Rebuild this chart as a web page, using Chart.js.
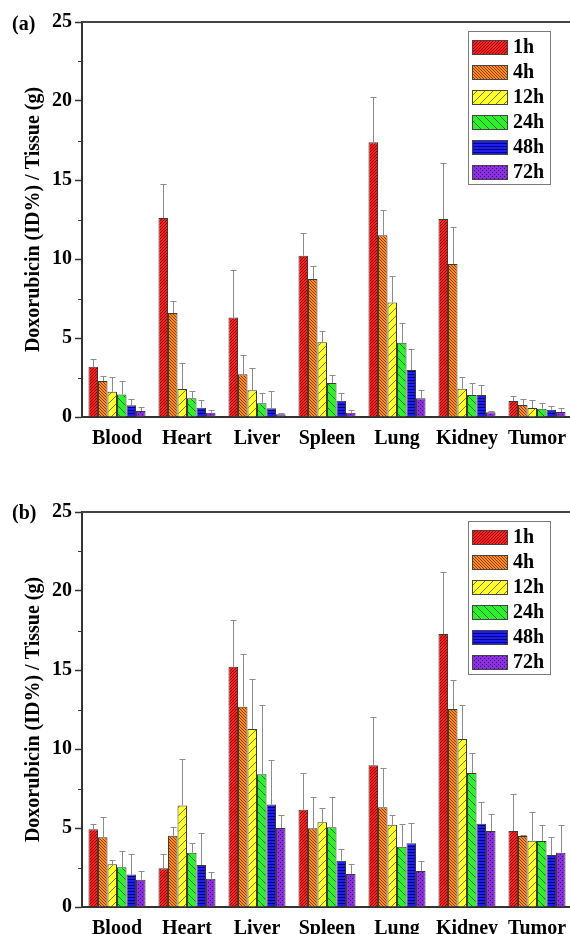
<!DOCTYPE html>
<html>
<head>
<meta charset="utf-8">
<script src="https://cdn.jsdelivr.net/npm/chart.js@4.4.1/dist/chart.umd.min.js"></script>
<style>
  html, body { margin: 0; padding: 0; background: #fff; width: 570px; height: 934px; overflow: hidden; position: relative; }
  .panel { position: absolute; left: 0; }
  .tag { position: absolute; left: 12px; font: bold 20px "Liberation Serif", "Times New Roman", serif; color: #000; }
</style>
</head>
<body>
<div class="panel" style="top:0"><canvas id="chartA" width="580" height="460"></canvas></div>
<div class="panel" style="top:490px"><canvas id="chartB" width="580" height="460"></canvas></div>
<div class="tag" style="top:12px">(a)</div>
<div class="tag" style="top:501px">(b)</div>
<script>
// categories and series
const organs = ['Blood', 'Heart', 'Liver', 'Spleen', 'Lung', 'Kidney', 'Tumor'];
const times = ['1h', '4h', '12h', '24h', '48h', '72h'];
const yTicks = [0, 5, 10, 15, 20, 25];

// panel (a)
const a1h = [3.18, 12.6, 6.29, 10.21, 17.39, 12.53, 1.01];
const a1hErr = [0.47, 2.15, 3.0, 1.42, 2.88, 3.56, 0.34];
const a4h = [2.28, 6.58, 2.7, 8.73, 11.5, 9.68, 0.76];
const a4hErr = [0.34, 0.76, 1.22, 0.83, 1.6, 2.36, 0.36];
const a12h = [1.6, 1.77, 1.69, 4.73, 7.24, 1.79, 0.57];
const a12hErr = [0.91, 1.65, 1.39, 0.73, 1.68, 0.72, 0.48];
const a24h = [1.43, 1.18, 0.87, 2.15, 4.7, 1.39, 0.53];
const a24hErr = [0.85, 0.44, 0.65, 0.51, 1.27, 0.78, 0.34];
const a48h = [0.74, 0.59, 0.55, 1.03, 2.97, 1.39, 0.46];
const a48hErr = [0.38, 0.46, 1.12, 0.51, 1.31, 0.61, 0.24];
const a72h = [0.38, 0.27, 0.17, 0.27, 1.18, 0.3, 0.32];
const a72hErr = [0.23, 0.17, 0.08, 0.17, 0.51, 0.1, 0.25];

// panel (b)
const b1h = [4.92, 2.45, 15.21, 6.16, 8.97, 17.28, 4.81];
const b1hErr = [0.31, 0.88, 2.95, 2.34, 3.03, 3.94, 2.34];
const b4h = [4.41, 4.51, 12.68, 4.98, 6.31, 12.53, 4.49];
const b4hErr = [1.27, 0.55, 3.33, 1.96, 2.47, 1.84, 0.07];
const b12h = [2.7, 6.43, 11.27, 5.36, 5.21, 10.63, 4.2];
const b12hErr = [0.3, 2.92, 3.18, 0.93, 0.63, 2.15, 1.83];
const b24h = [2.51, 3.44, 8.4, 5.04, 3.82, 8.48, 4.18];
const b24hErr = [1.01, 0.63, 4.38, 1.9, 1.43, 1.25, 0.99];
const b48h = [2.05, 2.66, 6.48, 2.93, 4.03, 5.27, 3.29];
const b48hErr = [1.28, 2.0, 2.8, 0.72, 1.29, 1.35, 1.16];
const b72h = [1.73, 1.79, 5.0, 2.09, 2.28, 4.81, 3.44];
const b72hErr = [0.55, 0.4, 0.8, 0.65, 0.65, 1.1, 1.73];

const FONT = '"Liberation Serif", "Times New Roman", serif';

// hatch fills, one per time point
function hatch(base, ink, kind, size) {
  const c = document.createElement('canvas');
  c.width = size; c.height = size;
  const g = c.getContext('2d');
  g.fillStyle = base;
  g.fillRect(0, 0, size, size);
  g.strokeStyle = ink;
  g.lineWidth = 1;
  g.beginPath();
  if (kind === 'up') {
    for (let k = -1; k <= 1; k++) {
      g.moveTo(k * size - 1, size + 1);
      g.lineTo(k * size + size + 1, -1);
    }
  } else if (kind === 'down') {
    for (let k = -1; k <= 1; k++) {
      g.moveTo(k * size - 1, -1);
      g.lineTo(k * size + size + 1, size + 1);
    }
  } else if (kind === 'horiz') {
    g.moveTo(0, size - 0.5);
    g.lineTo(size, size - 0.5);
  }
  g.stroke();
  if (kind === 'check') {
    g.fillStyle = ink;
    g.fillRect(0, 0, 1, 1);
    g.fillRect(2, 2, 1, 1);
  }
  return g.createPattern(c, 'repeat');
}

const fills = [
  hatch('#ff1c1c', '#8a0000', 'up', 3),
  hatch('#ff8a1e', '#8a4000', 'down', 3),
  hatch('#ffff2a', '#7a7a00', 'up', 8),
  hatch('#2cf02c', '#107010', 'down', 8),
  hatch('#1e1ef0', '#00007a', 'horiz', 3),
  hatch('#8a2ee0', '#3a0a70', 'check', 4)
];

const errorBars = {
  id: 'errorBars',
  afterDatasetsDraw(chart) {
    const ctx = chart.ctx, y = chart.scales.y;
    ctx.save();
    ctx.strokeStyle = '#8c8c8c';
    ctx.lineWidth = 1;
    chart.data.datasets.forEach((ds, i) => {
      chart.getDatasetMeta(i).data.forEach((bar, j) => {
        const top = Math.round(y.getPixelForValue(ds.data[j] + ds.errors[j])) + 0.5;
        const x = Math.round(bar.x) + 0.5;
        ctx.beginPath();
        ctx.moveTo(x, bar.y);
        ctx.lineTo(x, top);
        ctx.moveTo(x - 3, top);
        ctx.lineTo(x + 3, top);
        ctx.stroke();
      });
    });
    ctx.restore();
  }
};

const frame = {
  id: 'frame',
  afterDraw(chart) {
    const ctx = chart.ctx, a = chart.chartArea, y = chart.scales.y;
    ctx.save();
    ctx.strokeStyle = '#444';
    ctx.lineWidth = 2;
    ctx.beginPath();
    ctx.moveTo(a.left, a.top);
    ctx.lineTo(a.right, a.top);
    ctx.stroke();
    // minor ticks
    ctx.lineWidth = 1;
    ctx.strokeStyle = '#333';
    y.ticks.forEach(t => {
      if (t.value % 5 !== 0) {
        const py = Math.round(y.getPixelForValue(t.value)) + 0.5;
        ctx.beginPath();
        ctx.moveTo(a.left - 4, py);
        ctx.lineTo(a.left, py);
        ctx.stroke();
      }
    });
    ctx.restore();
  }
};

const boxLegend = {
  id: 'boxLegend',
  afterDraw(chart) {
    const ctx = chart.ctx, a = chart.chartArea;
    const sets = chart.data.datasets;
    const right = a.right - 22, top = a.top + 9, w = 82, rowH = 25;
    const left = right - w, h = sets.length * rowH + 3;
    ctx.save();
    ctx.fillStyle = '#fff';
    ctx.fillRect(left, top, w, h);
    ctx.strokeStyle = '#7a7a7a';
    ctx.lineWidth = 1;
    ctx.strokeRect(left + 0.5, top + 0.5, w, h);
    ctx.font = 'bold 20px ' + FONT;
    ctx.textBaseline = 'middle';
    sets.forEach((ds, i) => {
      const cy = top + 16 + i * rowH;
      ctx.fillStyle = ds.backgroundColor;
      ctx.fillRect(left + 4, cy - 7, 35, 14);
      ctx.strokeStyle = '#444';
      ctx.strokeRect(left + 4.5, cy - 6.5, 35, 14);
      ctx.fillStyle = '#000';
      ctx.fillText(ds.label, left + 45, cy + 1);
    });
    ctx.restore();
  }
};

function makeChart(id, series, errs) {
  return new Chart(document.getElementById(id), {
    type: 'bar',
    data: {
      labels: organs,
      datasets: times.map((t, i) => ({
        label: t,
        data: series[i],
        errors: errs[i],
        backgroundColor: fills[i],
        borderColor: '#3a3a3a',
        borderWidth: 1,
        categoryPercentage: 0.815,
        barPercentage: 1.0
      }))
    },
    options: {
      responsive: false,
      animation: false,
      layout: { padding: { top: 22, right: 8, left: 0, bottom: 0 } },
      plugins: { legend: { display: false }, tooltip: { enabled: false } },
      scales: {
        x: {
          grid: { display: false },
          border: { display: true, color: '#333', width: 2 },
          ticks: { color: '#000', padding: 2, font: { family: FONT, size: 20, weight: 'bold' } },
          afterFit(s) { s.height = 43; }
        },
        y: {
          min: yTicks[0],
          max: yTicks[yTicks.length - 1],
          ticks: {
            stepSize: 2.5,
            padding: 3,
            color: '#000',
            font: { family: FONT, size: 20, weight: 'bold' },
            callback: v => (yTicks.includes(v) ? String(v) : '')
          },
          grid: {
            drawOnChartArea: false,
            drawTicks: true,
            tickLength: 7,
            tickWidth: 1.5,
            tickColor: c => (c.tick && c.tick.value % 5 === 0 ? '#333' : 'rgba(0,0,0,0)')
          },
          border: { display: true, color: '#333', width: 2 },
          title: {
            display: true,
            text: 'Doxorubicin (ID%) / Tissue (g)',
            color: '#000',
            padding: { top: 22, bottom: 0 },
            font: { family: FONT, size: 20, weight: 'bold' }
          },
          afterFit(s) { s.width = 82; }
        }
      }
    },
    plugins: [errorBars, frame, boxLegend]
  });
}

makeChart('chartA', [a1h, a4h, a12h, a24h, a48h, a72h], [a1hErr, a4hErr, a12hErr, a24hErr, a48hErr, a72hErr]);
makeChart('chartB', [b1h, b4h, b12h, b24h, b48h, b72h], [b1hErr, b4hErr, b12hErr, b24hErr, b48hErr, b72hErr]);
</script>
</body>
</html>
